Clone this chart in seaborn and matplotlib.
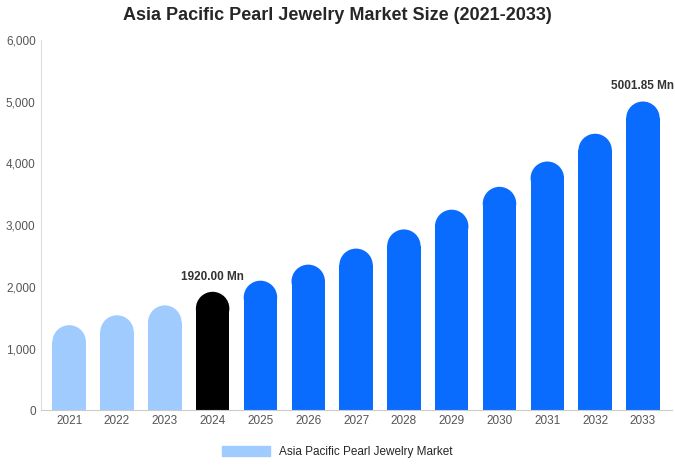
import matplotlib
matplotlib.use("Agg")
import matplotlib.pyplot as plt
import seaborn as sns
import pandas as pd
from matplotlib.patches import Ellipse, Patch

years = ["2021","2022","2023","2024","2025","2026","2027","2028","2029","2030","2031","2032","2033"]
values = [1380, 1540, 1700, 1920, 2100, 2360, 2620, 2930, 3250, 3620, 4030, 4480, 5001.85]
colors = ["#9fcbff"]*3 + ["#000000"] + ["#0a6cff"]*9
labels = {3: "1920.00 Mn", 12: "5001.85 Mn"}

sns.set_style("white")
plt.rcParams['font.family'] = ['Liberation Sans', 'DejaVu Sans']

fig = plt.figure(figsize=(6.75, 4.69), dpi=100)
ax = fig.add_axes([0.06, 0.125, 0.935, 0.79])
df = pd.DataFrame({"year": years, "value": values})
sns.barplot(data=df, x="year", y="value", hue="year", palette=colors, legend=False,
            width=0.7, ax=ax, saturation=1, linewidth=0, edgecolor="none")
ax.set_ylim(0, 6000)
ax.set_xlim(-0.6, 12.6)
ext = ax.get_window_extent()
px_per_unit = ext.height / 6000
px_per_x = ext.width / 13.2
for i, p in enumerate(list(ax.patches)):
    w = p.get_width()
    h = p.get_height()
    r = (w * px_per_x / 2) / px_per_unit
    p.set_height(h - r)
    ax.add_patch(Ellipse((p.get_x() + w/2, h - r), w, 2*r, facecolor=p.get_facecolor(),
                         edgecolor="none", lw=0))
    if i in labels:
        ax.text(p.get_x() + w/2, h + 150, labels[i], ha="center", va="bottom",
                fontsize=8.5, fontweight="bold", color="#333333")

ax.set_yticks(range(0, 7000, 1000))
ax.set_yticklabels([f"{v:,}" for v in range(0, 7000, 1000)], fontsize=8.5, color="#555555")
ax.tick_params(axis="x", labelsize=8.5, labelcolor="#555555", length=0)
ax.tick_params(axis="y", length=0)
ax.set_xlabel(""); ax.set_ylabel("")
for s in ["top", "right"]:
    ax.spines[s].set_visible(False)
ax.spines["left"].set_color("#dddddd")
ax.spines["bottom"].set_color("#cccccc")
fig.suptitle("Asia Pacific Pearl Jewelry Market Size (2021-2033)", fontsize=13,
             fontweight="bold", y=0.985)
fig.legend(handles=[Patch(color="#9fcbff", label="Asia Pacific Pearl Jewelry Market")],
           loc="lower center", bbox_to_anchor=(0.5, 0.0), frameon=False, fontsize=8.5,
           handlelength=4, handleheight=0.9)
fig.savefig("out.png", dpi=100)
